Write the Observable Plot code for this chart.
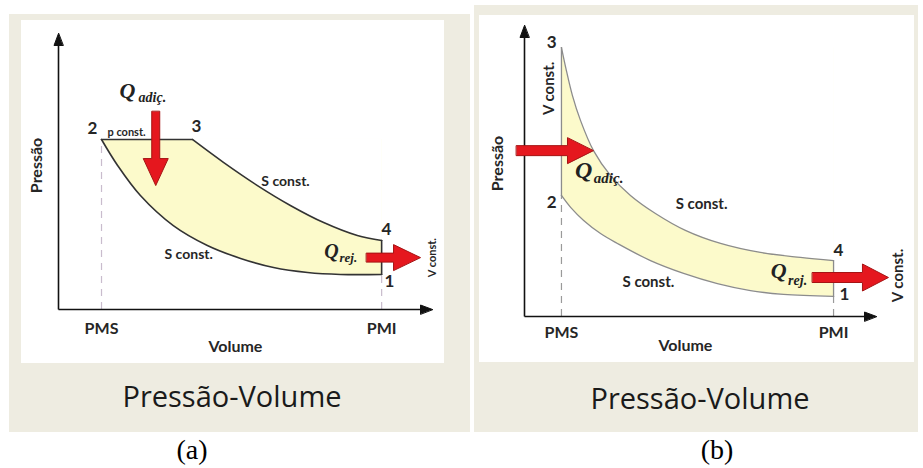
<!DOCTYPE html>
<html><head><meta charset="utf-8">
<script src="https://cdn.jsdelivr.net/npm/d3@7"></script>
<script src="https://cdn.jsdelivr.net/npm/@observablehq/plot@0.6"></script>
<style>
body{margin:0;background:#fff;width:923px;height:468px;position:relative;overflow:hidden}
.panel{position:absolute;background:#eeece1}
.inner{position:absolute;background:#fff}
.title{position:absolute;font-family:"Open Sans",sans-serif;font-size:29px;color:#1a1a1a;transform:translate(-50%,-50%);white-space:nowrap}
.cap{position:absolute;font-family:"Liberation Serif",serif;font-size:28px;color:#000;transform:translate(-50%,-50%)}
</style></head><body>
<div class="panel" style="left:9px;top:14px;width:461px;height:418px"></div>
<div class="panel" style="left:474px;top:5px;width:444px;height:427px"></div>
<div id="a" class="inner" style="left:21px;top:20px;width:423px;height:343px"></div>
<div id="b" class="inner" style="left:479px;top:15px;width:435px;height:347px"></div>
<div class="title" style="left:232px;top:395px">Pressão-Volume</div>
<div class="title" style="left:700px;top:397px">Pressão-Volume</div>
<div class="cap" style="left:192px;top:450px">(a)</div>
<div class="cap" style="left:717px;top:450px">(b)</div>
<script>
// ---------- shared ----------
const tickLabels = ["PMS", "PMI"];
const axisTitles = ["Volume", "Pressão"];

// ---------- panel (a): heat added at constant pressure ----------
const aTicks = [11.5, 86.4];            // volume at PMS, PMI
const aP2 = 61.6, aV3 = 35.8;           // state 2 & 3 pressure, state 3 volume
const aP4 = 25.0, aP1 = 12.7;
const aUpperV = [35.8, 44.1, 53.2, 62.0, 70.9, 79.9, 86.4];
const aUpperP = [61.6, 53.3, 44.9, 37.7, 31.5, 26.8, 25.0];
const aLowerV = [11.5, 15.8, 21.9, 30.7, 39.8, 48.7, 57.5, 66.6, 75.4, 86.4];
const aLowerP = [61.6, 52.2, 41.3, 30.4, 23.2, 18.5, 15.2, 13.4, 12.7, 12.7];
const aStateText = ["2", "3", "4", "1"];
const aStateV = [9.1, 36.9, 87.7, 88.5];
const aStateP = [65.6, 66.3, 29.0, 10.1];
const aConstText = ["S const.", "S const."];
const aConstV = [60.7, 34.8];
const aConstP = [46.4, 19.9];

// ---------- panel (b): heat added at constant volume ----------
const bTicks = [10.5, 87.8];
const bP2 = 41.6, bP3 = 92.4;
const bP4 = 19.2, bP1 = 6.9;
const bUpperV = [10.5, 11.9, 13.6, 15.9, 19.6, 24.4, 30.1, 37.2, 45.7, 55.7, 67.0, 78.4, 87.8];
const bUpperP = [92.4, 84.5, 76.0, 67.4, 57.0, 48.5, 41.6, 35.4, 29.6, 25.1, 22.0, 20.3, 19.2];
const bLowerV = [10.5, 13.1, 16.8, 21.6, 26.4, 35.8, 45.2, 54.8, 64.2, 73.6, 87.8];
const bLowerP = [41.6, 37.5, 33.0, 28.5, 25.1, 19.2, 14.8, 11.3, 8.9, 7.6, 6.9];
const bStateText = ["3", "2", "4", "1"];
const bStateV = [7.7, 7.7, 89.2, 90.9];
const bStateP = [94.2, 39.2, 22.7, 7.6];
const bConstText = ["S const.", "S const."];
const bConstV = [50.3, 35.2];
const bConstP = [38.5, 11.7];

const zip = (V, P) => V.map((v, i) => ({v, p: P[i]}));

function blockArrow(shaft, headW, headL) {
  return {draw(ctx, l) {
    const s = shaft / 2, h = headW / 2, b = -(l - headL);
    ctx.moveTo(-s, 0); ctx.lineTo(-s, b); ctx.lineTo(-h, b); ctx.lineTo(0, -l);
    ctx.lineTo(h, b); ctx.lineTo(s, b); ctx.lineTo(s, 0); ctx.closePath();
  }};
}
const axisHead = {draw(ctx, l) { ctx.moveTo(0, -l); ctx.lineTo(-4.5, 0); ctx.lineTo(4.5, 0); ctx.closePath(); }};

const RED = "#e5171e", RED_D = "#a51414", YEL = "#fcfacb", INK = "#262626";

function textMark(data, o) {
  return Plot.text(data, {fill: INK, fontFamily: "Lato", fontWeight: "bold", ...o});
}

function makePanel(cfg) {
  const upper = cfg.upper, lower = cfg.lower;
  const marks = [
    // cycle fill
    Plot.rect([cfg.box], {x1: "x1", x2: "x2", y1: "y1", y2: "y2", fill: cfg.fill}),
    Plot.areaY(upper, {x: "v", y1: "p", y2: () => cfg.box.y2, fill: "white", curve: "catmull-rom"}),
    Plot.areaY(lower, {x: "v", y1: () => cfg.box.y1, y2: "p", fill: "white", curve: "catmull-rom"}),
    // dashed guides
    Plot.ruleX([cfg.ticks[0]], {y1: 0, y2: cfg.dashTop[0], stroke: cfg.dash, strokeDasharray: "7,6", strokeWidth: 1.2}),
    Plot.ruleX([cfg.ticks[1]], {y1: 0, y2: cfg.dashTop[1], stroke: cfg.dash, strokeDasharray: "7,6", strokeWidth: 1.2}),
    // axes
    Plot.link([{x1: 0, y1: 0, x2: 99, y2: 0}], {x1: "x1", y1: "y1", x2: "x2", y2: "y2", stroke: "#111", strokeWidth: 1.6}),
    Plot.link([{x1: 0, y1: 0, x2: 0, y2: 99}], {x1: "x1", y1: "y1", x2: "x2", y2: "y2", stroke: "#111", strokeWidth: 1.6}),
    Plot.vector([{x: 100, y: 0}], {x: "x", y: "y", rotate: 90, length: 12, anchor: "end", shape: axisHead, fill: "#111", stroke: "#111", strokeWidth: 1}),
    Plot.vector([{x: 0, y: 100}], {x: "x", y: "y", rotate: 0, length: 12, anchor: "end", shape: axisHead, fill: "#111", stroke: "#111", strokeWidth: 1}),
    // cycle outline
    Plot.line(upper, {x: "v", y: "p", curve: "catmull-rom", stroke: cfg.ink, strokeWidth: cfg.sw}),
    Plot.line(lower, {x: "v", y: "p", curve: "catmull-rom", stroke: cfg.ink, strokeWidth: cfg.sw}),
    Plot.line(cfg.heatSide, {x: "v", y: "p", stroke: cfg.ink, strokeWidth: cfg.sw}),
    Plot.line(cfg.rejSide, {x: "v", y: "p", stroke: cfg.ink, strokeWidth: cfg.sw}),
    // heat arrows
    ...cfg.arrows.map(a => Plot.vector([a], {x: "x", y: "y", rotate: a.rot, length: a.len, anchor: "end",
      shape: blockArrow(a.shaft, a.hw, a.hl), fill: RED, stroke: RED_D, strokeWidth: 1, strokeLinejoin: "miter"})),
    // labels
    textMark(cfg.ticks.map((t, i) => ({v: t, p: 0, t: tickLabels[i]})), {x: "v", y: "p", text: "t", dy: cfg.tickDy, fontSize: 16}),
    textMark([{v: cfg.volPos[0], p: cfg.volPos[1]}], {x: "v", y: "p", text: () => axisTitles[0], fontSize: 16}),
    textMark([{v: cfg.presPos[0], p: cfg.presPos[1]}], {x: "v", y: "p", text: () => axisTitles[1], fontSize: 16, rotate: -90}),
    textMark(cfg.states, {x: "v", y: "p", text: "t", fontSize: 17}),
    textMark(cfg.consts, {x: "v", y: "p", text: "t", fontSize: cfg.constSize}),
    ...cfg.small.map(s => textMark([s], {x: "v", y: "p", text: "t", fontSize: s.size, rotate: s.rot})),
    ...cfg.q.map(q => Plot.text([q], {x: "v", y: "p", text: "t", fontSize: q.size, fontFamily: "Liberation Serif",
      fontStyle: "italic", fontWeight: "bold", fill: "#222"}))
  ];
  return Plot.plot({
    width: cfg.width, height: cfg.height,
    marginLeft: cfg.m[0], marginRight: cfg.m[1], marginTop: cfg.m[2], marginBottom: cfg.m[3],
    x: {domain: [0, 100], axis: null}, y: {domain: [0, 100], axis: null},
    style: {background: "transparent", overflow: "visible", fontFamily: "Lato"},
    marks
  });
}

const rows = (T, V, P) => T.map((t, i) => ({t, v: V[i], p: P[i]}));

document.getElementById("a").append(makePanel({
  width: 423, height: 343, m: [37, 12, 13, 54],
  upper: zip(aUpperV, aUpperP), lower: zip(aLowerV, aLowerP),
  box: {x1: aTicks[0], x2: aTicks[1], y1: aP1, y2: aP2},
  fill: YEL, ink: "#333", sw: 1.6, dash: "#c9bccd",
  ticks: aTicks, dashTop: [aP2, aP1], tickDy: 19,
  heatSide: zip([aTicks[0], aV3], [aP2, aP2]),
  rejSide: zip([aTicks[1], aTicks[1]], [aP4, aP1]),
  arrows: [
    {x: 26.0, y: 44.9, rot: 180, len: 74, shaft: 8, hw: 25, hl: 27},
    {x: 96.8, y: 18.8, rot: 90, len: 54, shaft: 9, hw: 26, hl: 27}
  ],
  volPos: [47.3, -13.4], presPos: [-5.9, 52.2],
  states: rows(aStateText, aStateV, aStateP),
  consts: rows(aConstText, aConstV, aConstP), constSize: 14,
  small: [
    {t: "p const.", v: 18.2, p: 64.1, size: 11, rot: 0},
    {t: "V const.", v: 100, p: 18.8, size: 11, rot: -90}
  ],
  q: [
    {t: "Q", v: 18.4, p: 79.3, size: 22}, {t: "adiç.", v: 25.1, p: 76.8, size: 14},
    {t: "Q", v: 73.0, p: 21.0, size: 20}, {t: "rej.", v: 77.5, p: 18.8, size: 13}
  ]
}));

document.getElementById("b").append(makePanel({
  width: 435, height: 347, m: [45, 38, 10, 46],
  upper: zip(bUpperV, bUpperP), lower: zip(bLowerV, bLowerP),
  box: {x1: bTicks[0], x2: bTicks[1], y1: bP1, y2: bP3},
  fill: YEL, ink: "#8c8c8c", sw: 1.3, dash: "#9a9a9a",
  ticks: bTicks, dashTop: [bP2, bP1], tickDy: 16,
  heatSide: zip([bTicks[0], bTicks[0]], [bP2, bP3]),
  rejSide: zip([bTicks[1], bTicks[1]], [bP4, bP1]),
  arrows: [
    {x: 19.6, y: 57.0, rot: 90, len: 77, shaft: 10, hw: 26, hl: 26},
    {x: 103.4, y: 13.4, rot: 90, len: 76, shaft: 10, hw: 27, hl: 26}
  ],
  volPos: [45.7, -10.0], presPos: [-7.7, 52.6],
  states: rows(bStateText, bStateV, bStateP),
  consts: rows(bConstText, bConstV, bConstP), constSize: 15,
  small: [
    {t: "V const.", v: 7.1, p: 78.4, size: 15, rot: -90},
    {t: "V const.", v: 106.3, p: 14.1, size: 15, rot: -90}
  ],
  q: [
    {t: "Q", v: 16.8, p: 50.2, size: 24}, {t: "adiç.", v: 23.9, p: 47.4, size: 15},
    {t: "Q", v: 72.2, p: 15.8, size: 22}, {t: "rej.", v: 77.6, p: 12.4, size: 14}
  ]
}));
</script>
</body></html>
